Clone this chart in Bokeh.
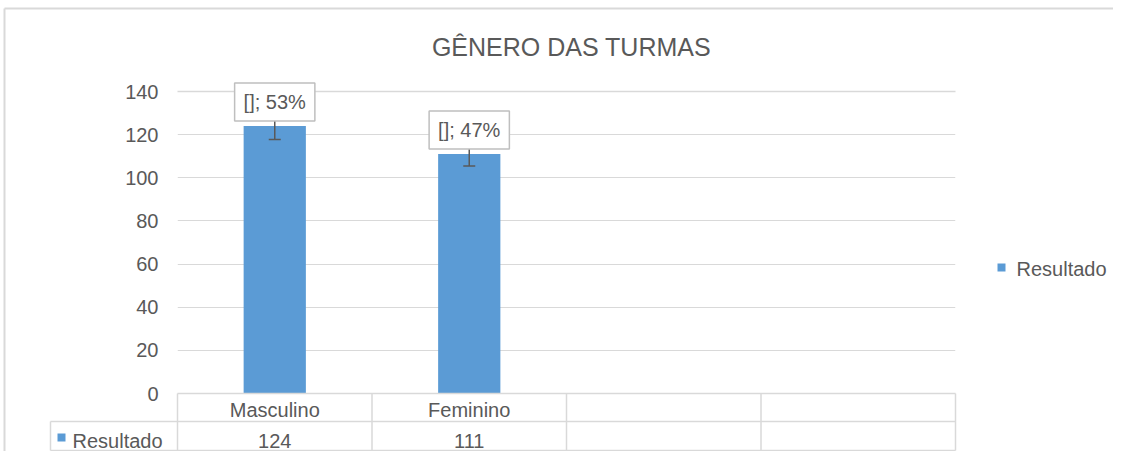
from bokeh.plotting import figure
from bokeh.models import Range1d, FixedTicker, ColumnDataSource, Whisker, TeeHead
from bokeh.embed import file_html
from bokeh.resources import INLINE
from bokeh.core.properties import value

# ---------------- data ----------------
title_text = "GÊNERO DAS TURMAS"
categories = ["Masculino", "Feminino", "", ""]
series_name = "Resultado"
values = [124, 111]
errors = [6.2, 5.55]
y_ticks = [0, 20, 40, 60, 80, 100, 120, 140]

# ---------------- style ----------------
FONT = "Liberation Sans"
TXT = "#595959"
GRID = "#d9d9d9"
BAR = "#5b9bd5"
FS = "20px"

W, H = 1113, 451
BL, BR, BT, BB = 177, 158, 91, 58
FW = W - BL - BR   # frame width in px (778)
FH = H - BT - BB   # frame height in px (302)

p = figure(width=W, height=H, output_backend="svg", toolbar_location=None,
           x_range=Range1d(0, len(categories)), y_range=Range1d(y_ticks[0], y_ticks[-1]),
           min_border_left=BL, min_border_right=BR, min_border_top=BT, min_border_bottom=BB)
p.extra_x_ranges = {"px": Range1d(0, FW)}
p.extra_y_ranges = {"px": Range1d(0, FH)}
p.background_fill_color = "white"
p.border_fill_color = "white"
p.outline_line_color = None

# grid
p.xgrid.visible = False
p.ygrid.ticker = FixedTicker(ticks=y_ticks)
p.ygrid.grid_line_color = GRID
p.ygrid.grid_line_width = 1

# y axis
yax = p.yaxis[0]
yax.ticker = FixedTicker(ticks=y_ticks)
yax.axis_line_color = None
yax.major_tick_line_color = None
yax.minor_tick_line_color = None
yax.major_tick_out = 0
yax.major_label_standoff = 19
yax.major_label_text_font = FONT
yax.major_label_text_font_size = FS
yax.major_label_text_color = TXT

# x axis: category names in first table row
xs = [i + 0.5 for i in range(len(categories))]
xax = p.xaxis[0]
xax.ticker = FixedTicker(ticks=xs)
xax.major_label_overrides = {x: c for x, c in zip(xs, categories)}
xax.axis_line_color = None
xax.major_tick_line_color = None
xax.minor_tick_line_color = None
xax.major_tick_out = 0
xax.major_label_standoff = 5
xax.major_label_text_font = FONT
xax.major_label_text_font_size = FS
xax.major_label_text_color = TXT

# edge gridlines (frame edges) drawn unclipped
p.segment(x0=[0, 0], x1=[len(categories)] * 2, y0=[y_ticks[0], y_ticks[-1]],
          y1=[y_ticks[0], y_ticks[-1]], line_color=GRID, line_width=1.5, level="overlay")

# bars
total = sum(values)
n = len(values)
src = ColumnDataSource(dict(
    x=xs[:n], top=values,
    lower=[v - e for v, e in zip(values, errors)],
    upper=[v + e for v, e in zip(values, errors)],
    label=[f"[]; {round(v / total * 100)}%" for v in values],
    val=[str(v) for v in values],
))
bars = p.vbar(x="x", top="top", bottom=0, width=0.32, source=src,
              fill_color=BAR, line_color=None)

# error bars (drawn above the bars)
p.add_layout(Whisker(base="x", lower="lower", upper="upper", source=src, level="annotation",
                     line_color=TXT, line_width=1.5,
                     upper_head=TeeHead(size=12, line_color=TXT, line_width=1.5),
                     lower_head=TeeHead(size=12, line_color=TXT, line_width=1.5)))

# data labels with box
p.text(x="x", y="top", text="label", source=src, level="overlay",
       text_align="center", text_baseline="bottom", y_offset=-5,
       text_font=value(FONT), text_font_size=FS, text_color=TXT,
       background_fill_color="white", border_line_color="#bfbfbf",
       border_line_width=1.5, padding=(9, 8))

# ---------------- data table below ----------------
left_px = -127
row1, row2 = -28, -57
p.segment(x0=[left_px, left_px], x1=[FW, FW], y0=[row1, row2], y1=[row1, row2],
          x_range_name="px", y_range_name="px", line_color=GRID, line_width=1.5, level="overlay")
bounds = list(range(len(categories) + 1))
p.segment(x0=bounds, x1=bounds, y0=[0] * len(bounds), y1=[row2] * len(bounds),
          y_range_name="px", line_color=GRID, line_width=1.5, level="overlay")
p.segment(x0=[left_px], x1=[left_px], y0=[row1], y1=[row2],
          x_range_name="px", y_range_name="px", line_color=GRID, line_width=1.5, level="overlay")
p.text(x="x", y=-47, text="val", source=src, y_range_name="px", level="overlay",
       text_align="center", text_baseline="middle",
       text_font=value(FONT), text_font_size=FS, text_color=TXT)
# series key square in the table (8x8 drawn as a thick short segment)
p.segment(x0=[left_px + 7], x1=[left_px + 15], y0=[-44], y1=[-44], line_width=8,
          line_color=BAR, line_cap="butt", x_range_name="px", y_range_name="px", level="overlay")
p.text(x=[left_px + 22], y=[-47], text=[series_name], x_range_name="px", y_range_name="px",
       level="overlay", text_align="left", text_baseline="middle",
       text_font=value(FONT), text_font_size=FS, text_color=TXT)

# chart outer border (top and left edges)
p.segment(x0=[-BL + 4, -BL + 4], x1=[FW + BR, -BL + 4], y0=[FH + BT - 8, FH + BT - 8],
          y1=[FH + BT - 8, -BB], x_range_name="px", y_range_name="px",
          line_color=GRID, line_width=2, level="overlay")

# title
p.text(x=[FW / 2 + 5], y=[FH + 45], text=[title_text], x_range_name="px", y_range_name="px",
       level="overlay", text_align="center", text_baseline="middle",
       text_font=value(FONT), text_font_size="25px", text_color=TXT)

# legend (right side)
p.segment(x0=[FW + 42], x1=[FW + 50], y0=[126], y1=[126], line_width=8,
          line_color=BAR, line_cap="butt", x_range_name="px", y_range_name="px", level="overlay")
p.text(x=[FW + 61], y=[125], text=[series_name], x_range_name="px", y_range_name="px",
       level="overlay", text_align="left", text_baseline="middle",
       text_font=value(FONT), text_font_size=FS, text_color=TXT)

open("out.html", "w").write(file_html(p, INLINE))
